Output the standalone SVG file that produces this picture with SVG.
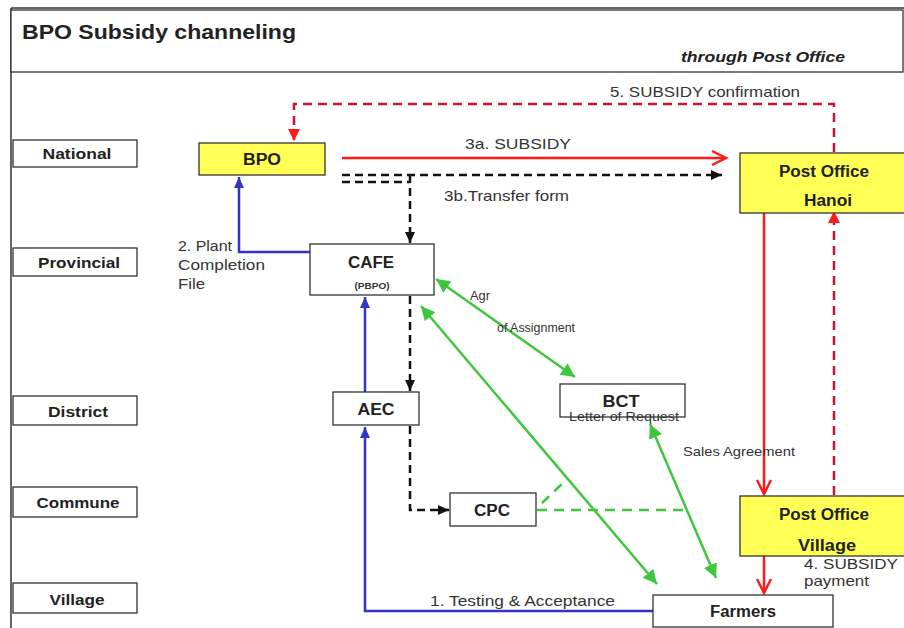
<svg xmlns="http://www.w3.org/2000/svg" width="904" height="628" viewBox="0 0 904 628">
<style>
.box{fill:#fff;stroke:#333;stroke-width:1.3}
.yel{fill:#ffff55;stroke:#333;stroke-width:1.3}
.lvl{font:bold 15px "Liberation Sans",Arial,sans-serif;fill:#222;text-anchor:middle}
.nt{font:bold 16px "Liberation Sans",Arial,sans-serif;fill:#222;text-anchor:middle}
.lb{font:15px "Liberation Sans",Arial,sans-serif;fill:#333}
.sm{font:13px "Liberation Sans",Arial,sans-serif;fill:#333}
.red{fill:none;stroke:#ff1a1a;stroke-width:2.5}
.rdash{fill:none;stroke:#cc1133;stroke-width:2.5;stroke-dasharray:9,6}
.bdash{fill:none;stroke:#111;stroke-width:2.5;stroke-dasharray:8,5}
.blue{fill:none;stroke:#3333cc;stroke-width:2.5}
.grn{fill:none;stroke:#3ec73e;stroke-width:2.5}
.gdash{fill:none;stroke:#3ec73e;stroke-width:2.5;stroke-dasharray:10,7}
</style>
<defs>
<marker id="ropen" markerWidth="20" markerHeight="20" refX="16" refY="8" orient="auto" markerUnits="userSpaceOnUse" viewBox="0 0 20 16"><path d="M2,1 L16,8 L2,15" fill="none" stroke="#ff1a1a" stroke-width="2.5"/></marker>
<marker id="rfill" markerWidth="14" markerHeight="14" refX="12" refY="6" orient="auto" markerUnits="userSpaceOnUse" viewBox="0 0 14 12"><path d="M0,0 L12,6 L0,12 Z" fill="#ff1a1a"/></marker>
<marker id="kfill" markerWidth="12" markerHeight="12" refX="11" refY="5" orient="auto" markerUnits="userSpaceOnUse" viewBox="0 0 12 10"><path d="M0,0 L11,5 L0,10 Z" fill="#111"/></marker>
<marker id="bfill" markerWidth="12" markerHeight="12" refX="11" refY="5" orient="auto" markerUnits="userSpaceOnUse" viewBox="0 0 12 10"><path d="M0,0 L11,5 L0,10 Z" fill="#3333cc"/></marker>
<marker id="gfill" markerWidth="16" markerHeight="16" refX="14" refY="7" orient="auto-start-reverse" markerUnits="userSpaceOnUse" viewBox="0 0 16 14"><path d="M0,0 L14,7 L0,14 Z" fill="#3ec73e"/></marker>
</defs>
<rect width="904" height="628" fill="#fff"/>
<g id="frame">
<line x1="11" y1="8" x2="904" y2="8" stroke="#333" stroke-width="1.5"/>
<line x1="11" y1="8" x2="11" y2="628" stroke="#333" stroke-width="1.5"/>
<rect x="11" y="10" width="892" height="62" fill="#fff" stroke="#333" stroke-width="1.3"/>
<text x="22" y="39" textLength="274" lengthAdjust="spacingAndGlyphs" style="font:bold 21px 'Liberation Sans',Arial,sans-serif;fill:#222">BPO Subsidy channeling</text>
<text x="681" y="62" textLength="164" lengthAdjust="spacingAndGlyphs" style="font:italic bold 15px 'Liberation Sans',Arial,sans-serif;fill:#222">through  Post Office</text>
</g>
<g id="levels">
<rect class="box" x="13" y="140" width="124" height="27"/><text class="lvl" x="77" y="159" textLength="69" lengthAdjust="spacingAndGlyphs">National</text>
<rect class="box" x="13" y="248" width="124" height="28"/><text class="lvl" x="79" y="268" textLength="82" lengthAdjust="spacingAndGlyphs">Provincial</text>
<rect class="box" x="13" y="396" width="124" height="29"/><text class="lvl" x="78" y="417" textLength="60" lengthAdjust="spacingAndGlyphs">District</text>
<rect class="box" x="13" y="487" width="124" height="30"/><text class="lvl" x="78" y="508" textLength="83" lengthAdjust="spacingAndGlyphs">Commune</text>
<rect class="box" x="13" y="583" width="124" height="30"/><text class="lvl" x="77" y="605" textLength="55" lengthAdjust="spacingAndGlyphs">Village</text>
</g>
<g id="connectors">
<path class="rdash" d="M834,152 V104 H294 V141" marker-end="url(#rfill)"/>
<path class="rdash" d="M834,495 V211" marker-end="url(#rfill)"/>
<text class="lb" x="610" y="97" textLength="190" lengthAdjust="spacingAndGlyphs">5. SUBSIDY confirmation</text>
<path class="red" d="M342,158 H726" marker-end="url(#ropen)"/>
<text class="lb" x="465" y="149" textLength="106" lengthAdjust="spacingAndGlyphs">3a. SUBSIDY</text>
<path class="bdash" d="M342,175 H722" marker-end="url(#kfill)"/>
<path class="bdash" d="M342,182 H410"/>
<path class="bdash" d="M410,175 V243" marker-end="url(#kfill)"/>
<text class="lb" x="444" y="201" textLength="125" lengthAdjust="spacingAndGlyphs">3b.Transfer form</text>
<path class="bdash" d="M410,296 V391" marker-end="url(#kfill)"/>
<path class="bdash" d="M410,426 V510 H449" marker-end="url(#kfill)"/>
<path class="blue" d="M310,252 H239 V177" marker-end="url(#bfill)"/>
<text class="lb" x="178" y="251" textLength="54" lengthAdjust="spacingAndGlyphs">2. Plant</text>
<text class="lb" x="178" y="270" textLength="87" lengthAdjust="spacingAndGlyphs">Completion</text>
<text class="lb" x="178" y="289" textLength="27" lengthAdjust="spacingAndGlyphs">File</text>
<path class="blue" d="M365,392 V297" marker-end="url(#bfill)"/>
<path class="blue" d="M653,611 H365 V427" marker-end="url(#bfill)"/>
<text class="lb" x="430" y="606" textLength="185" lengthAdjust="spacingAndGlyphs">1. Testing &amp; Acceptance</text>
<path class="grn" d="M436,279 L575,377" marker-start="url(#gfill)" marker-end="url(#gfill)"/>
<text class="sm" x="470" y="300" textLength="20" lengthAdjust="spacingAndGlyphs">Agr</text>
<text class="sm" x="497" y="332" textLength="78" lengthAdjust="spacingAndGlyphs">of Assignment</text>
<path class="grn" d="M421,306 L657,584" marker-start="url(#gfill)" marker-end="url(#gfill)"/>
<path class="grn" d="M650,424 L716,578" marker-start="url(#gfill)" marker-end="url(#gfill)"/>
<path class="gdash" d="M537,510 H687"/>
<path class="gdash" d="M542,503 L567,479"/>
<path class="red" d="M764,213 V494" marker-end="url(#ropen)"/>
<text class="sm" x="683" y="456" textLength="112" lengthAdjust="spacingAndGlyphs">Sales Agreement</text>
<path class="red" d="M764,556 V593" marker-end="url(#ropen)"/>
<text class="lb" x="804" y="569" textLength="94" lengthAdjust="spacingAndGlyphs">4. SUBSIDY</text>
<text class="lb" x="804" y="586" textLength="65" lengthAdjust="spacingAndGlyphs">payment</text>
</g>
<g id="bpo"><rect class="yel" x="199" y="143" width="126" height="32"/><text class="nt" x="262" y="165" textLength="38" lengthAdjust="spacingAndGlyphs">BPO</text></g>
<g id="cafe"><rect class="box" x="310" y="244" width="124" height="51"/><text class="nt" x="371" y="268" textLength="46" lengthAdjust="spacingAndGlyphs">CAFE</text><text x="372" y="289" text-anchor="middle" textLength="35" lengthAdjust="spacingAndGlyphs" style="font:bold 9px 'Liberation Sans',Arial,sans-serif;fill:#333">(PBPO)</text></g>
<g id="aec"><rect class="box" x="333" y="392" width="86" height="33"/><text class="nt" x="376" y="415" textLength="37" lengthAdjust="spacingAndGlyphs">AEC</text></g>
<g id="bct"><rect class="box" x="560" y="384" width="125" height="33"/><text class="nt" x="621" y="407" textLength="37" lengthAdjust="spacingAndGlyphs">BCT</text><text class="sm" x="624" y="421" text-anchor="middle" textLength="110" lengthAdjust="spacingAndGlyphs">Letter of Request</text></g>
<g id="cpc"><rect class="box" x="450" y="493" width="86" height="33"/><text class="nt" x="492" y="516" textLength="36" lengthAdjust="spacingAndGlyphs">CPC</text></g>
<g id="po-hanoi"><rect class="yel" x="740" y="153" width="170" height="60"/><text class="nt" x="824" y="177" textLength="90" lengthAdjust="spacingAndGlyphs">Post Office</text><text class="nt" x="828" y="206" textLength="48" lengthAdjust="spacingAndGlyphs">Hanoi</text></g>
<g id="po-village"><rect class="yel" x="740" y="496" width="170" height="60"/><text class="nt" x="824" y="520" textLength="90" lengthAdjust="spacingAndGlyphs">Post Office</text><text class="nt" x="827" y="551" textLength="58" lengthAdjust="spacingAndGlyphs">Village</text></g>
<g id="farmers"><rect class="box" x="653" y="595" width="180" height="32"/><text class="nt" x="743" y="617" textLength="66" lengthAdjust="spacingAndGlyphs">Farmers</text></g>
</svg>
